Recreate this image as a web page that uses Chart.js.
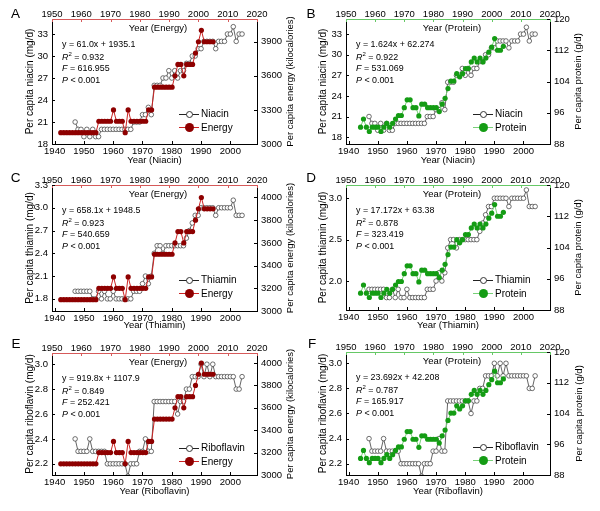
<!DOCTYPE html>
<html>
<head>
<meta charset="utf-8">
<script src="https://cdn.jsdelivr.net/npm/chart.js@4.4.1/dist/chart.umd.min.js"></script>
<style>
  body { margin: 0; background: #fff; }
  #wrap { position: relative; width: 600px; height: 511px; overflow: hidden; font-family: "Liberation Sans", Arial, sans-serif; color: #000; }
  canvas { position: absolute; }
  .t { position: absolute; white-space: nowrap; line-height: 1; }
  .b { position: absolute; box-sizing: border-box; }
</style>
</head>
<body>
<div id="wrap"></div>
<script>
const FONT = '"Liberation Sans", Arial, sans-serif';

// energy / protein are plotted against the top axis, nutrients against the bottom axis
const energyYears = [1953, 1954, 1955, 1956, 1957, 1958, 1959, 1960, 1961, 1962, 1963, 1964, 1965,
  1966, 1967, 1968, 1969, 1970, 1971, 1972, 1973, 1974, 1975, 1976, 1977, 1978, 1979, 1980,
  1981, 1982, 1983, 1984, 1985, 1986, 1987, 1988, 1989, 1990, 1991, 1992, 1993, 1994, 1995,
  1996, 1997, 1998, 1999, 2000, 2001, 2002, 2003, 2004, 2005];
const energyKcal = [3100, 3100, 3100, 3100, 3100, 3100, 3100, 3100, 3100, 3100, 3100, 3100, 3100,
  3200, 3200, 3200, 3200, 3200, 3300, 3200, 3200, 3200, 3100, 3300, 3200, 3200, 3200, 3200,
  3200, 3200, 3300, 3300, 3500, 3500, 3500, 3500, 3500, 3500, 3500, 3600, 3700, 3700, 3600,
  3700, 3700, 3700, 3800, 3900, 4000, 3900, 3900, 3900, 3900];

const proteinYears = [1955, 1956, 1957, 1958, 1959, 1960, 1961, 1962, 1963, 1964, 1965, 1966,
  1967, 1968, 1969, 1970, 1971, 1972, 1973, 1974, 1975, 1976, 1977, 1978, 1979, 1980, 1981,
  1982, 1983, 1984, 1985, 1986, 1987, 1988, 1989, 1990, 1991, 1992, 1993, 1994, 1995, 1996,
  1997, 1998, 1999, 2000, 2001, 2002, 2003, 2004];
const proteinGrams = [92.3, 94.4, 92.3, 91.2, 92.3, 92.3, 92.3, 91.2, 92.3, 93.3, 92.3, 93.3,
  94.4, 95.3, 95.3, 97.3, 99.3, 99.3, 97.3, 97.3, 95.2, 98.2, 98.2, 97.3, 97.3, 97.3, 97.3,
  96.3, 98.2, 99.7, 102.2, 104.1, 104.1, 106.0, 105.2, 106.0, 107.3, 107.3, 109.0, 110.0, 109.0, 110.0,
  109.0, 110.0, 111.5, 112.8, 115.0, 112.0, 112.0, 113.0];

const nutrientYears = [1947, 1948, 1949, 1950, 1951, 1952, 1953, 1954, 1955, 1956, 1957, 1958,
  1959, 1960, 1961, 1962, 1963, 1964, 1965, 1966, 1967, 1968, 1969, 1970, 1971, 1972, 1973,
  1974, 1975, 1976, 1977, 1978, 1979, 1980, 1981, 1982, 1983, 1984, 1985, 1986, 1987, 1988,
  1989, 1990, 1991, 1992, 1993, 1994, 1995, 1996, 1997, 1998, 1999, 2000, 2001, 2002, 2003, 2004];
const niacinMg = [21, 20, 20, 19, 20, 19, 20, 19, 19, 20, 20, 20,
  20, 20, 20, 20, 20, 20, 20, 20, 21, 21, 21, 22, 22, 23, 22,
  26, 26, 26, 27, 27, 28, 27, 28, 27, 28, 28, 29, 29, 30, 30,
  31, 31, 32, 32, 32, 32, 31, 32, 32, 32, 33, 33, 34, 32, 33, 33];
const thiaminMg = [1.9, 1.9, 1.9, 1.9, 1.9, 1.9, 1.8, 1.8, 1.9, 1.8, 1.9, 1.8,
  1.8, 1.9, 1.8, 1.8, 1.8, 1.8, 1.8, 1.8, 1.9, 1.9, 1.9, 2.0, 2.1, 2.0, 2.1,
  2.4, 2.5, 2.5, 2.4, 2.5, 2.5, 2.5, 2.5, 2.5, 2.5, 2.5, 2.6, 2.7, 2.8, 2.9,
  2.9, 3.0, 3.0, 3.0, 3.0, 3.0, 2.9, 3.0, 3.0, 3.0, 3.0, 3.0, 3.1, 2.9, 2.9, 2.9];
const riboflavinMg = [2.4, 2.3, 2.3, 2.3, 2.3, 2.4, 2.3, 2.3, 2.3, 2.3, 2.3, 2.2,
  2.2, 2.2, 2.2, 2.2, 2.2, 2.2, 2.1, 2.2, 2.2, 2.2, 2.3, 2.3, 2.4, 2.3, 2.3,
  2.7, 2.7, 2.7, 2.7, 2.7, 2.7, 2.7, 2.7, 2.6, 2.7, 2.7, 2.8, 2.8, 2.9, 2.9,
  2.9, 3.0, 2.9, 3.0, 2.9, 3.0, 2.9, 2.9, 2.9, 2.9, 2.9, 2.9, 2.9, 2.8, 2.8, 2.9];

// tick labels
const bottomTicks = [1940, 1950, 1960, 1970, 1980, 1990, 2000];
const topTicks = [1950, 1960, 1970, 1980, 1990, 2000, 2010, 2020];
const niacinTicks = [18, 21, 24, 27, 30, 33];
const thiaminTicksC = [1.8, 2.1, 2.4, 2.7, 3.0, 3.3];
const thiaminTicksD = [2.0, 2.5, 3.0];
const riboflavinTicks = [2.2, 2.4, 2.6, 2.8, 3.0];
const energyTicksA = [3000, 3300, 3600, 3900];
const energyTicks = [3000, 3200, 3400, 3600, 3800, 4000];
const proteinTicks = [88, 96, 104, 112, 120];

// regression text per panel
const eqA = ['y = 61.0x + 1935.1', '0.932', '616.955'];
const eqB = ['y = 1.624x + 62.274', '0.922', '531.069'];
const eqC = ['y = 658.1x + 1948.5', '0.923', '540.659'];
const eqD = ['y = 17.172x + 63.38', '0.878', '323.419'];
const eqE = ['y = 919.8x + 1107.9', '0.849', '252.421'];
const eqF = ['y = 23.692x + 42.208', '0.787', '165.917'];

const RED = { marker: '#8e0000', line: '#cc2222', axis: '#d65a5a' };
const GREEN = { marker: '#149c14', line: '#78d078', axis: '#66c866' };

const wrap = document.getElementById('wrap');

function pts(xs, ys) {
  return xs.map((x, i) => ({ x: x, y: ys[i] }));
}

function addText(html, x, y, size, transform) {
  const d = document.createElement('div');
  d.className = 't';
  d.innerHTML = html;
  d.style.left = x + 'px';
  d.style.top = y + 'px';
  d.style.fontSize = size + 'px';
  d.style.transform = transform || 'translate(-50%,-50%)';
  wrap.appendChild(d);
  return d;
}

function addBox(x, y, w, h, css) {
  const d = document.createElement('div');
  d.className = 'b';
  d.style.left = x + 'px';
  d.style.top = y + 'px';
  d.style.width = w + 'px';
  d.style.height = h + 'px';
  Object.assign(d.style, css);
  wrap.appendChild(d);
}

// small ticks pointing into the plot
const innerTicks = {
  id: 'innerTicks',
  afterDraw(chart) {
    const ctx = chart.ctx;
    const a = chart.chartArea;
    ctx.save();
    ctx.lineWidth = 1;
    Object.values(chart.scales).forEach(s => {
      ctx.strokeStyle = s.options.border.color;
      s.ticks.forEach(t => {
        const p = Math.round(s.getPixelForValue(t.value)) + 0.5;
        ctx.beginPath();
        if (s.position === 'bottom') { ctx.moveTo(p, a.bottom); ctx.lineTo(p, a.bottom - 3); }
        if (s.position === 'top') { ctx.moveTo(p, a.top); ctx.lineTo(p, a.top + 3); }
        if (s.position === 'left') { ctx.moveTo(a.left, p); ctx.lineTo(a.left + 3, p); }
        if (s.position === 'right') { ctx.moveTo(a.right, p); ctx.lineTo(a.right - 3, p); }
        ctx.stroke();
      });
    });
    ctx.restore();
  }
};

// right axis title, reading bottom to top like the left one
const rightTitle = {
  id: 'rightTitle',
  afterDraw(chart, args, opts) {
    const ctx = chart.ctx;
    const a = chart.chartArea;
    ctx.save();
    ctx.translate(opts.x, (a.top + a.bottom) / 2);
    ctx.rotate(-Math.PI / 2);
    ctx.font = '9.5px ' + FONT;
    ctx.fillStyle = '#000';
    ctx.textAlign = 'center';
    ctx.textBaseline = 'middle';
    ctx.fillText(opts.text, 0, 0);
    ctx.restore();
  }
};

function axis(pos, min, max, ticks, size, color, fmt, pad, title) {
  return {
    type: 'linear',
    position: pos,
    min: min,
    max: max,
    afterFit: s => {
      if (s.isHorizontal()) s.height = size; else s.width = size;
    },
    afterBuildTicks: s => {
      s.ticks = ticks.map(v => ({ value: v }));
    },
    grid: { display: true, drawOnChartArea: false, drawTicks: false },
    border: { display: true, color: color, width: 1 },
    ticks: {
      color: '#000',
      font: { family: FONT, size: 9.5 },
      padding: pad,
      maxRotation: 0,
      autoSkip: false,
      callback: fmt
    },
    title: title || { display: false }
  };
}

const yearFmt = v => String(v);
const intFmt = v => String(v);
const decFmt = v => v.toFixed(1);

function makePanel(p) {
  const [bx, by, bw, bh] = p.box;
  const [x0, y0, x1, y1] = p.plot;
  const c = document.createElement('canvas');
  c.width = bw;
  c.height = bh;
  c.style.left = bx + 'px';
  c.style.top = by + 'px';
  wrap.appendChild(c);

  new Chart(c, {
    type: 'line',
    data: {
      datasets: [
        {
          label: p.otherName,
          data: pts(p.otherYears, p.otherVals),
          xAxisID: 'x2',
          yAxisID: 'y2',
          borderColor: p.col.line,
          borderWidth: 1,
          pointRadius: 2.6,
          pointBackgroundColor: p.col.marker,
          pointBorderColor: p.col.marker,
          pointBorderWidth: 0,
          tension: 0,
          order: 0
        },
        {
          label: p.name,
          data: pts(nutrientYears, p.vals),
          xAxisID: 'x',
          yAxisID: 'y',
          borderColor: '#222',
          borderWidth: 0.7,
          pointRadius: 2.3,
          pointBackgroundColor: '#fff',
          pointBorderColor: '#333',
          pointBorderWidth: 0.7,
          tension: 0,
          order: 1
        }
      ]
    },
    options: {
      responsive: false,
      animation: false,
      events: [],
      layout: { padding: 0 },
      plugins: {
        legend: { display: false },
        tooltip: { enabled: false },
        rightTitle: { text: p.rightTitle, x: p.rightTitleX - bx }
      },
      scales: {
        x: axis('bottom', 1939.1, 2009.1, bottomTicks, by + bh - y1, '#000', yearFmt, 2, {
          display: true, text: 'Year (' + p.name + ')', color: '#000',
          font: { family: FONT, size: 9.5 },
          padding: { top: 0, bottom: by + bh - p.bottomTitleY - 5.7 }
        }),
        x2: axis('top', 1950, 2020, topTicks, y0 - by, p.col.axis, yearFmt, -1),
        y: axis('left', p.yRange[0], p.yRange[1], p.yTicks, x0 - bx, '#000', p.fmt, 4, {
          display: true, text: 'Per capita ' + p.name.toLowerCase() + ' (mg/d)', color: '#000',
          font: { family: FONT, size: 10 },
          padding: { top: p.leftTitleX - bx - 6, bottom: 0 }
        }),
        y2: axis('right', p.y2Range[0], p.y2Range[1], p.y2Ticks, bx + bw - x1, '#000', intFmt, 4)
      }
    },
    plugins: [innerTicks, rightTitle]
  });

  // panel letter
  addText(p.letter, p.letterPos[0], p.letterPos[1], 13.5);
  // top axis title inside the frame
  addText('Year (' + p.otherName + ')', x0 + 106, y0 + 8.5, 9.5);
  // regression statistics
  const ex = x0 + 10;
  addText(p.eq[0], ex, y0 + 25, 8.9, 'translateY(-50%)');
  addText('<i>R</i><sup style="font-size:6px;vertical-align:4px">2</sup> = ' + p.eq[1], ex, y0 + 37, 8.9, 'translateY(-50%)');
  addText('<i>F</i> = ' + p.eq[2], ex, y0 + 49, 8.9, 'translateY(-50%)');
  addText('<i>P</i> &lt; 0.001', ex, y0 + 61, 8.9, 'translateY(-50%)');
  // legend
  const r1 = y0 + 95, r2 = y0 + 108.5, lx = x0 + 127, cx = x0 + 137;
  addBox(lx, r1 - 0.5, 20, 1, { background: '#222' });
  addBox(cx - 3.5, r1 - 3.5, 7, 7, { background: '#fff', border: '1px solid #333', borderRadius: '50%' });
  addText(p.name, x0 + 149, r1, 10, 'translateY(-50%)');
  addBox(lx, r2 - 0.5, 20, 1, { background: p.col.line });
  addBox(cx - 4.5, r2 - 4.5, 9, 9, { background: p.col.marker, borderRadius: '50%' });
  addText(p.otherName, x0 + 149, r2, 10, 'translateY(-50%)');
}

const energyPanel = {
  otherName: 'Energy', otherYears: energyYears, otherVals: energyKcal, col: RED,
  rightTitle: 'Per capita energy (kilocalories)'
};
const proteinPanel = {
  otherName: 'Protein', otherYears: proteinYears, otherVals: proteinGrams, col: GREEN,
  rightTitle: 'Per capita protein (g/d)', y2Range: [88, 120], y2Ticks: proteinTicks
};

makePanel(Object.assign({}, energyPanel, {
  letter: 'A', letterPos: [15.5, 13.5], box: [0, 0, 300, 170], plot: [52, 19, 257, 144],
  name: 'Niacin', vals: niacinMg, yRange: [18, 35.05], yTicks: niacinTicks, fmt: intFmt,
  y2Range: [3000, 4100], y2Ticks: energyTicksA, eq: eqA,
  leftTitleX: 30, rightTitleX: 290, bottomTitleY: 160
}));
makePanel(Object.assign({}, proteinPanel, {
  letter: 'B', letterPos: [311, 13.5], box: [300, 0, 300, 170], plot: [346, 19, 550, 144],
  name: 'Niacin', vals: niacinMg, yRange: [17, 35.2], yTicks: niacinTicks, fmt: intFmt, eq: eqB,
  leftTitleX: 323, rightTitleX: 578, bottomTitleY: 160
}));
makePanel(Object.assign({}, energyPanel, {
  letter: 'C', letterPos: [15.5, 178], box: [0, 170, 300, 170], plot: [52, 185, 257, 311],
  name: 'Thiamin', vals: thiaminMg, yRange: [1.64, 3.3], yTicks: thiaminTicksC, fmt: decFmt,
  y2Range: [3000, 4110], y2Ticks: energyTicks, eq: eqC,
  leftTitleX: 30, rightTitleX: 290, bottomTitleY: 325
}));
makePanel(Object.assign({}, proteinPanel, {
  letter: 'D', letterPos: [311, 178], box: [300, 170, 300, 170], plot: [346, 185, 550, 310],
  name: 'Thiamin', vals: thiaminMg, yRange: [1.65, 3.16], yTicks: thiaminTicksD, fmt: decFmt, eq: eqD,
  leftTitleX: 323, rightTitleX: 578, bottomTitleY: 325
}));
makePanel(Object.assign({}, energyPanel, {
  letter: 'E', letterPos: [16, 344], box: [0, 338, 300, 173], plot: [52, 353, 257, 475],
  name: 'Riboflavin', vals: riboflavinMg, yRange: [2.11, 3.09], yTicks: riboflavinTicks, fmt: decFmt,
  y2Range: [3000, 4090], y2Ticks: energyTicks, eq: eqE,
  leftTitleX: 30, rightTitleX: 290, bottomTitleY: 491
}));
makePanel(Object.assign({}, proteinPanel, {
  letter: 'F', letterPos: [312, 344], box: [300, 338, 300, 173], plot: [346, 352, 550, 475],
  name: 'Riboflavin', vals: riboflavinMg, yRange: [2.11, 3.09], yTicks: riboflavinTicks, fmt: decFmt, eq: eqF,
  leftTitleX: 323, rightTitleX: 579, bottomTitleY: 491
}));
</script>
</body>
</html>
